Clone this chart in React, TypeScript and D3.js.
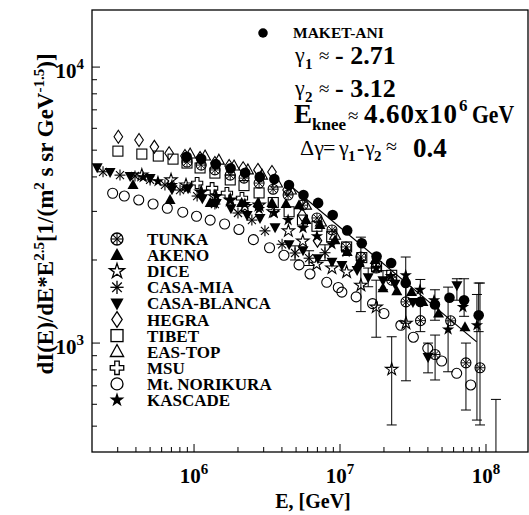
import React from "react";
import * as d3 from "d3";

const W = 529;
const H = 515;
const PL = 92;
const PR = 528;
const PT = 10;
const PB = 452;
const FONT = "'Liberation Serif','Times New Roman',serif";

// ---- axis ticks ----
const xMajor = [1e6, 1e7, 1e8];
const xMajorExp = ["6", "7", "8"];
const yMajor = [1e3, 1e4];
const yMajorExp = ["3", "4"];

// ---- MAKET-ANI ----
const makE = [8.9e5, 1.12e6, 1.41e6, 1.78e6, 2.24e6, 2.82e6, 3.55e6, 4.47e6, 5.62e6, 7.08e6, 8.91e6, 1.12e7, 1.41e7, 1.78e7, 2.24e7, 2.82e7, 3.55e7, 4.47e7, 5.62e7, 7.08e7, 8.91e7];
const makI = [4730, 4650, 4450, 4300, 4140, 4000, 3930, 3740, 3440, 3220, 2910, 2560, 2300, 2060, 1950, 1650, 1410, 1380, 1460, 1430, 1260];
const makErr: [number, number, number][] = [[2.82e7, 1180, 2050], [3.55e7, 1100, 1700], [4.47e7, 1210, 1560], [7.08e7, 1250, 1710], [8.91e7, 1100, 1650]];
const fitE = [4.4e6, 8.63e7];
const fitI = [3780, 1010];

// ---- Mt. NORIKURA ----
const noriE = [2.77e5, 3.33e5, 4.18e5, 5.24e5, 6.56e5, 8.37e5, 1.04e6, 1.29e6, 1.62e6, 2.03e6, 2.55e6, 3.29e6, 4.13e6, 5.24e6, 6.23e6, 8.11e6, 9.73e6, 1.03e7, 1.29e7, 1.67e7, 2.0e7, 2.61e7, 3.18e7, 3.99e7, 4.97e7, 6.3e7, 7.86e7];
const noriI = [3490, 3410, 3300, 3190, 3080, 2980, 2880, 2790, 2700, 2580, 2370, 2215, 2080, 1920, 1780, 1660, 1590, 1530, 1470, 1390, 1280, 1160, 1050, 957, 861, 777, 705];

// ---- HEGRA ----
const hegE = [3.03e5, 4.2e5, 5.35e5, 6.75e5, 8.67e5, 1.1e6, 1.39e6, 1.74e6, 2.17e6, 2.74e6, 3.42e6, 4.34e6, 5.5e6, 7.01e6];
const hegI = [5590, 5440, 5140, 4870, 4760, 4680, 4490, 4380, 4300, 4240, 4165, 3585, 2910, 2350];

// ---- TIBET ----
const tibE = [3.01e5, 4.39e5, 5.69e5, 7.18e5, 8.95e5, 1.1e6, 1.39e6, 1.77e6, 2.2e6, 2.79e6, 3.49e6, 4.48e6, 5.53e6, 6.95e6, 8.77e6, 1.11e7, 1.41e7, 1.78e7, 2.26e7];
const tibI = [4960, 4840, 4760, 4640, 4490, 4310, 4130, 3900, 3720, 3500, 3230, 2990, 2790, 2650, 2430, 2230, 2040, 1890, 1760];

// ---- EAS-TOP ----
const easE = [9.4e5, 1.19e6, 1.48e6, 1.88e6, 2.34e6, 2.92e6, 3.7e6, 4.61e6, 5.85e6, 7.41e6, 9.25e6];
const easI = [4840, 4760, 4600, 4380, 4240, 4060, 3800, 3585, 3160, 2745, 2460];

// ---- MSU ----
const msuE = [1.05e6, 1.33e6, 1.68e6, 2.13e6];
const msuI = [3800, 3640, 3495, 3350];

// ---- AKENO ----
const akeE = [3.82e5, 6.85e5, 1.29e6, 2.12e6, 2.74e6, 3.42e6, 4.27e6, 5.24e6, 5.85e6, 7.29e6, 9.25e6, 1.12e7, 1.35e7, 1.74e7, 1.97e7, 2.45e7, 3.09e7, 3.7e7, 4.73e7, 7.18e7];
const akeI = [3740, 3300, 3220, 3220, 3220, 3220, 3190, 3160, 2790, 2680, 2360, 2140, 1950, 2000, 1580, 1540, 1530, 1410, 1280, 1140];

// ---- CASA-BLANCA ----
const cbE = [2.17e5, 2.66e5, 3.65e5, 5.0e5, 7.06e5, 9.1e5, 1.14e6, 1.42e6, 1.79e6, 2.31e6, 2.83e6, 3.59e6, 4.48e6, 5.58e6, 7.06e6, 8.81e6, 1.03e7, 1.31e7, 1.56e7, 1.97e7, 2.38e7, 3.16e7, 4.01e7, 6.32e7];
const cbI = [4340, 4165, 4030, 3960, 3610, 3640, 3350, 3220, 3080, 2910, 2840, 2630, 2280, 2170, 2030, 1970, 1920, 1840, 1730, 1690, 1640, 1410, 890, 1620];
const cbErr: [number, number, number][] = [[4.01e7, 780, 1000], [6.32e7, 1430, 1710], [1.56e7, 1600, 1870], [1.97e7, 1560, 1830]];

// ---- CASA-MIA ----
const cmE = [2.38e5, 3.11e5, 3.94e5, 5.0e5, 6.32e5, 8.02e5, 1.05e6, 1.39e6, 2.0e6, 2.49e6, 3.06e6, 4.01e6, 4.92e6, 6.14e6, 7.89e6];
const cmI = [4175, 4060, 4030, 3900, 3740, 3585, 3410, 3190, 2960, 2790, 2550, 2280, 2120, 2030, 2125];
const cmErr: [number, number, number][] = [[4.92e6, 2000, 2250], [6.14e6, 1910, 2160], [7.89e6, 1990, 2270]];

// ---- DICE ----
const diceE = [4.39e5, 6.96e5, 8.81e5, 1.12e6, 1.39e6, 1.77e6, 2.23e6, 2.79e6, 3.49e6, 4.43e6, 5.56e6, 6.92e6, 8.81e6, 1.11e7, 1.39e7, 1.77e7, 2.26e7, 2.83e7];
const diceI = [4060, 3900, 3740, 3525, 3390, 3300, 3120, 3160, 2990, 2550, 2340, 1930, 1870, 1810, 1620, 1350, 803, 1180];
const diceErr: [number, number, number][] = [[1.39e7, 1300, 2420], [1.77e7, 1050, 1690], [2.26e7, 505, 1054], [2.83e7, 730, 1640]];

// ---- KASCADE ----
const kasE = [4.48e5, 5.66e5, 7.06e5, 8.95e5, 1.12e6, 1.42e6, 1.77e6, 2.23e6, 2.79e6, 3.53e6, 4.41e6, 5.58e6, 6.95e6, 8.81e6, 1.1e7, 1.39e7, 1.77e7, 2.23e7, 2.82e7, 3.53e7, 4.41e7, 5.5e7, 6.95e7, 8.67e7];
const kasI = [3990, 3860, 3740, 3640, 3525, 3410, 3300, 3190, 3060, 2960, 2790, 2610, 2440, 2280, 2140, 1970, 1870, 1750, 1760, 1560, 1430, 1120, 1350, 1160];
const kasErr: [number, number, number][] = [[5.5e7, 787, 1595], [8.67e7, 526, 1500]];

// ---- TUNKA ----
const tunE = [8.95e5, 1.12e6, 1.39e6, 1.77e6, 2.2e6, 2.79e6, 3.48e6, 4.41e6, 5.56e6, 6.95e6, 8.81e6, 1.1e7, 1.39e7, 1.77e7, 2.26e7, 2.83e7, 3.56e7, 4.48e7, 5.73e7, 7.29e7, 9.1e7, 1.17e8];
const tunI = [4530, 4415, 4240, 4060, 3960, 3800, 3610, 3440, 3160, 2840, 2570, 2230, 2050, 1870, 1690, 1410, 1206, 909, 1204, 848, 814, 300];
const tunErr: [number, number, number][] = [[4.48e7, 735, 1069], [7.29e7, 572, 1000], [9.1e7, 505, 1650], [1.17e8, 100, 625]];

type Sym = "circleOpen" | "circleFilled" | "square" | "triUp" | "triUpOpen" | "triDown" | "diamond" | "starOpen" | "starFilled" | "asterisk" | "tunka" | "cross";

interface Series { name: string; sym: Sym; E: number[]; I: number[]; err: [number, number, number][] }

const drawOrder: Series[] = [
  { name: "Mt. NORIKURA", sym: "circleOpen", E: noriE, I: noriI, err: [] },
  { name: "HEGRA", sym: "diamond", E: hegE, I: hegI, err: [] },
  { name: "TIBET", sym: "square", E: tibE, I: tibI, err: [] },
  { name: "EAS-TOP", sym: "triUpOpen", E: easE, I: easI, err: [] },
  { name: "MSU", sym: "cross", E: msuE, I: msuI, err: [] },
  { name: "DICE", sym: "starOpen", E: diceE, I: diceI, err: diceErr },
  { name: "CASA-MIA", sym: "asterisk", E: cmE, I: cmI, err: cmErr },
  { name: "CASA-BLANCA", sym: "triDown", E: cbE, I: cbI, err: cbErr },
  { name: "AKENO", sym: "triUp", E: akeE, I: akeI, err: [] },
  { name: "KASCADE", sym: "starFilled", E: kasE, I: kasI, err: kasErr },
  { name: "TUNKA", sym: "tunka", E: tunE, I: tunI, err: tunErr },
  { name: "MAKET-ANI", sym: "circleFilled", E: makE, I: makI, err: makErr },
];

const legendNames = ["TUNKA", "AKENO", "DICE", "CASA-MIA", "CASA-BLANCA", "HEGRA", "TIBET", "EAS-TOP", "MSU", "Mt. NORIKURA", "KASCADE"];

function Marker({ sym, x, y, k = 1 }: { sym: Sym; x: number; y: number; k?: number }) {
  const sw = 1.1;
  const t = `translate(${x},${y}) scale(${k})`;
  switch (sym) {
    case "circleOpen":
      return <circle transform={t} r={5} fill="none" stroke="#000" strokeWidth={sw} />;
    case "circleFilled":
      return <circle transform={t} r={5.3} fill="#000" />;
    case "square":
      return <rect transform={t} x={-5} y={-5} width={10} height={10} fill="none" stroke="#000" strokeWidth={sw} />;
    case "triUp":
      return <path transform={t} d="M0,-6L5.5,4L-5.5,4Z" fill="#000" />;
    case "triUpOpen":
      return <path transform={t} d="M0,-6L5.5,4L-5.5,4Z" fill="none" stroke="#000" strokeWidth={sw} />;
    case "triDown":
      return <path transform={t} d="M0,6L5.5,-4L-5.5,-4Z" fill="#000" />;
    case "diamond":
      return <path transform={t} d="M0,-6.5L4.3,0L0,6.5L-4.3,0Z" fill="none" stroke="#000" strokeWidth={sw} />;
    case "starOpen":
      return <path transform={t} d={d3.symbol(d3.symbolStar, 48)() || ""} fill="none" stroke="#000" strokeWidth={sw} />;
    case "starFilled":
      return <path transform={t} d={d3.symbol(d3.symbolStar, 48)() || ""} fill="#000" />;
    case "cross":
      return <path transform={t} d={d3.symbol(d3.symbolCross, 70)() || ""} fill="none" stroke="#000" strokeWidth={sw} />;
    case "asterisk":
      return (
        <g transform={t} stroke="#000" strokeWidth={sw}>
          <line x1={0} y1={-5.5} x2={0} y2={5.5} />
          <line x1={-5.5} y1={0} x2={5.5} y2={0} />
          <line x1={-4} y1={-4} x2={4} y2={4} />
          <line x1={-4} y1={4} x2={4} y2={-4} />
        </g>
      );
    case "tunka":
      return (
        <g transform={t} stroke="#000" strokeWidth={0.9} fill="none">
          <circle r={5} strokeWidth={sw} />
          <line x1={0} y1={-5} x2={0} y2={5} />
          <line x1={-5} y1={0} x2={5} y2={0} />
          <line x1={-3.5} y1={-3.5} x2={3.5} y2={3.5} />
          <line x1={-3.5} y1={3.5} x2={3.5} y2={-3.5} />
        </g>
      );
  }
  return null;
}

export default function App() {
  const x = d3.scaleLog().domain([2e5, 1.94e8]).range([PL, PR]);
  const y = d3.scaleLog().domain([403, 16100]).range([PB, PT]);
  const isPow10 = (v: number) => Math.abs(Math.log10(v) - Math.round(Math.log10(v))) < 1e-9;
  const xMinor = x.ticks().filter((v) => !isPow10(v) && x(v) > PL + 1 && x(v) < PR - 1);
  const yMinor = y.ticks().filter((v) => !isPow10(v) && y(v) < PB - 1 && y(v) > PT + 1);
  const fitLine = d3.line<number>().x((_, i) => x(fitE[i])).y((d) => y(d))(fitI) || "";
  const bySym: Record<string, Sym> = {};
  drawOrder.forEach((s) => (bySym[s.name] = s.sym));

  return (
    <svg width={W} height={H} style={{ position: "fixed", left: 0, top: 0, background: "#fff" }} fontFamily={FONT}>
      <defs>
        <clipPath id="plotclip">
          <rect x={PL} y={PT} width={PR - PL} height={PB - PT} />
        </clipPath>
      </defs>
      <rect x={0} y={0} width={W} height={H} fill="#fff" />
      <g clipPath="url(#plotclip)">
        {drawOrder.map((s) => (
          <g key={s.name}>
            {s.err.map(([e, lo, hi], i) => (
              <g key={i} stroke="#000" strokeWidth={1}>
                <line x1={x(e)} x2={x(e)} y1={y(lo)} y2={y(hi)} />
                <line x1={x(e) - 5} x2={x(e) + 5} y1={y(lo)} y2={y(lo)} />
                <line x1={x(e) - 5} x2={x(e) + 5} y1={y(hi)} y2={y(hi)} />
              </g>
            ))}
            {s.E.map((e, i) => (
              <Marker key={i} sym={s.sym} x={x(e)} y={y(s.I[i])} />
            ))}
          </g>
        ))}
        <path d={fitLine} fill="none" stroke="#000" strokeWidth={1.2} />
      </g>

      {/* frame */}
      <rect x={PL} y={PT} width={PR - PL} height={PB - PT} fill="none" stroke="#000" strokeWidth={1.3} />

      {/* x ticks */}
      {xMajor.map((v, i) => (
        <g key={v}>
          <line x1={x(v)} x2={x(v)} y1={PB} y2={PB - 8} stroke="#000" strokeWidth={1} />
          <text x={x(v)} y={483} textAnchor="middle" fontWeight="bold" fontSize={21}>
            10<tspan dy={-9} fontSize={15}>{xMajorExp[i]}</tspan>
          </text>
        </g>
      ))}
      {xMinor.map((v) => (
        <line key={v} x1={x(v)} x2={x(v)} y1={PB} y2={PB - 5} stroke="#000" strokeWidth={1} />
      ))}
      {/* y ticks */}
      {yMajor.map((v, i) => (
        <g key={v}>
          <line x1={PL} x2={PL + 8} y1={y(v)} y2={y(v)} stroke="#000" strokeWidth={1} />
          <text x={84} y={y(v) + 11} textAnchor="end" fontWeight="bold" fontSize={21}>
            10<tspan dy={-9} fontSize={15}>{yMajorExp[i]}</tspan>
          </text>
        </g>
      ))}
      {yMinor.map((v) => (
        <line key={v} x1={PL} x2={PL + 5} y1={y(v)} y2={y(v)} stroke="#000" strokeWidth={1} />
      ))}

      {/* axis titles */}
      <text x={313} y={508} textAnchor="middle" fontWeight="bold" fontSize={20}>E, [GeV]</text>
      <text transform="translate(53,214) rotate(-90)" textAnchor="middle" fontWeight="bold" fontSize={23}>
        <tspan>dI(E)/dE*E</tspan>
        <tspan dy={-9} fontSize={15}>2.5</tspan>
        <tspan dy={9}>[1/(m</tspan>
        <tspan dy={-9} fontSize={15}>2</tspan>
        <tspan dy={9}> s sr GeV</tspan>
        <tspan dy={-9} fontSize={15}>-1.5</tspan>
        <tspan dy={9}>)]</tspan>
      </text>

      {/* legend */}
      {legendNames.map((n, i) => {
        const ly = 239 + 16.1 * i;
        return (
          <g key={n}>
            <Marker sym={bySym[n]} x={117} y={ly} k={1.2} />
            <text x={147} y={ly + 6} fontWeight="bold" fontSize={17}>{n}</text>
          </g>
        );
      })}

      {/* annotation */}
      <Marker sym="circleFilled" x={263} y={33} k={0.9} />
      <text x={293} y={38} fontWeight="bold" fontSize={15.5}>MAKET-ANI</text>

      <text x={295} y={62} fontSize={22}>γ</text>
      <text x={305} y={69} fontSize={15} fontWeight="bold">1</text>
      <text x={319} y={62} fontSize={19}>≈</text>
      <text x={335} y={64} fontSize={26} fontWeight="bold">- 2.71</text>

      <text x={295} y={95} fontSize={22}>γ</text>
      <text x={305} y={102} fontSize={15} fontWeight="bold">2</text>
      <text x={319} y={95} fontSize={19}>≈</text>
      <text x={335} y={97} fontSize={26} fontWeight="bold">- 3.12</text>

      <text x={294} y={123} fontSize={27} fontWeight="bold">E</text>
      <text x={312} y={130} fontSize={17} fontWeight="bold">knee</text>
      <text x={348} y={122} fontSize={19}>≈</text>
      <text x={364} y={123} fontSize={27} fontWeight="bold" textLength={93} lengthAdjust="spacing">4.60x10</text>
      <text x={459} y={111} fontSize={17} fontWeight="bold">6</text>
      <text x={472} y={123} fontSize={26} fontWeight="bold" textLength={42} lengthAdjust="spacingAndGlyphs">GeV</text>

      <text x={300} y={155} fontSize={22}>Δγ</text>
      <text x={323} y={155} fontSize={22}>=</text>
      <text x={339} y={155} fontSize={22}>γ</text>
      <text x={348} y={161} fontSize={15} fontWeight="bold">1</text>
      <text x={357} y={155} fontSize={22} fontWeight="bold">-</text>
      <text x={365} y={155} fontSize={22}>γ</text>
      <text x={374} y={161} fontSize={15} fontWeight="bold">2</text>
      <text x={386} y={153} fontSize={20}>≈</text>
      <text x={413} y={157} fontSize={27} fontWeight="bold">0.4</text>
    </svg>
  );
}
